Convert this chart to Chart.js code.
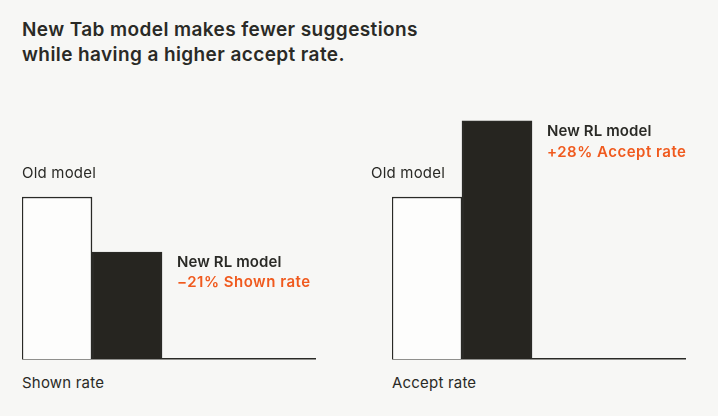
<!DOCTYPE html>
<html>
<head>
<meta charset="utf-8">
<script src="https://cdn.jsdelivr.net/npm/chart.js@4.4.0/dist/chart.umd.min.js"></script>
<style>
  html, body { margin: 0; padding: 0; background: #f7f7f5; }
  body { width: 718px; height: 416px; position: relative; overflow: hidden;
         font-family: Inter, "Noto Sans", sans-serif; color: #2a2a26; }
  .t { position: absolute; white-space: nowrap; }
  #title { left: 22px; top: 17px; font-size: 19px; line-height: 25px; font-weight: 600; letter-spacing: 0.4px; }
  .lbl { font-size: 15px; line-height: 20px; font-weight: 400; letter-spacing: 0.2px; }
  .new { font-size: 15px; line-height: 20px; font-weight: 600; letter-spacing: 0.1px; }
  .chg { font-size: 15px; line-height: 20px; font-weight: 600; color: #f05a1e; letter-spacing: 0.5px; }
  .wrap { position: absolute; top: 116px; width: 294px; height: 245px; }
</style>
</head>
<body>
<div id="title" class="t">New Tab model makes fewer suggestions<br>while having a higher accept rate.</div>

<div class="wrap" style="left:22px"><canvas id="c1"></canvas></div>
<div class="wrap" style="left:392px"><canvas id="c2"></canvas></div>

<div class="t lbl" id="old1" style="left:22px; top:163px"></div>
<div class="t new" id="new1" style="left:177px; top:252px"></div>
<div class="t chg" id="chg1" style="left:177px; top:272px"></div>
<div class="t lbl" id="axis1" style="left:22px; top:373px"></div>

<div class="t lbl" id="old2" style="left:371px; top:163px"></div>
<div class="t new" id="new2" style="left:547px; top:121px"></div>
<div class="t chg" id="chg2" style="left:547px; top:142px"></div>
<div class="t lbl" id="axis2" style="left:392px; top:373px"></div>

<script>
// ---- data (relative units, old model = 100) ----
const models = ['Old model', 'New RL model'];
const shownRate = [100, 66];
const acceptRate = [100, 147];
const panelLabels = ['Shown rate', 'Accept rate'];
const changeLabels = ['\u221221% Shown rate', '+28% Accept rate'];

document.getElementById('old1').textContent = models[0];
document.getElementById('new1').textContent = models[1];
document.getElementById('chg1').textContent = changeLabels[0];
document.getElementById('axis1').textContent = panelLabels[0];
document.getElementById('old2').textContent = models[0];
document.getElementById('new2').textContent = models[1];
document.getElementById('chg2').textContent = changeLabels[1];
document.getElementById('axis2').textContent = panelLabels[1];

const ink = '#2a2a26';
function makeChart(id, values) {
  return new Chart(document.getElementById(id), {
    type: 'bar',
    data: {
      datasets: [{
        data: values.map((v, i) => ({ x: i + 0.5, y: v })),
        backgroundColor: ['#fdfdfc', '#262520'],
        borderColor: ink,
        borderWidth: 1.5,
        barPercentage: 1,
        categoryPercentage: 1
      }]
    },
    options: {
      responsive: true,
      maintainAspectRatio: false,
      animation: false,
      layout: { padding: { top: 0, bottom: 2, left: 0, right: 0 } },
      plugins: { legend: { display: false }, tooltip: { enabled: false } },
      scales: {
        x: {
          type: 'linear', min: 0, max: 4.2, offset: false,
          grid: { display: false, drawTicks: false, offset: false },
          ticks: { display: false, stepSize: 1 },
          afterBuildTicks: (s) => { s.ticks = s.ticks.filter(t => Number.isInteger(t.value)); },
          border: { display: true, color: ink, width: 1.5 }
        },
        y: {
          display: false, min: 0, max: 150
        }
      }
    }
  });
}
makeChart('c1', shownRate);
makeChart('c2', acceptRate);
</script>
</body>
</html>
